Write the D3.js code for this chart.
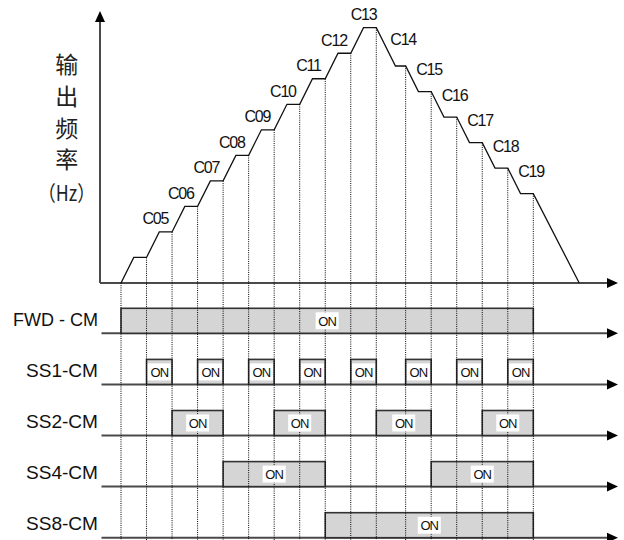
<!DOCTYPE html>
<html>
<head>
<meta charset="utf-8">
<script src="https://cdn.jsdelivr.net/npm/d3@7"></script>
<style>
  html, body { margin: 0; padding: 0; background: #fff; }
  svg { display: block; }
</style>
</head>
<body>
<svg id="chart" width="624" height="540"></svg>
<script>
// ---------- data ----------
const stepLabels = ["", "C05", "C06", "C07", "C08", "C09", "C10", "C11", "C12", "C13", "C14", "C15", "C16", "C17", "C18", "C19"];
const stepFreq   = [1, 2, 3, 4, 5, 6, 7, 8, 9, 10, 8.5, 7.5, 6.5, 5.5, 4.5, 3.5];
const stepBounds = [0, 1, 2, 3, 4, 5, 6, 7, 8, 9, 10, 11.15, 12.15, 13.15, 14.15, 15.15, 16.15];
const stopTime = 17.95;
const rampRate = 2;           // frequency units per time unit
const yAxisTitle = ["输", "出", "频", "率"];
const yAxisUnit = "（Hz）";
const signalNames = ["FWD - CM", "SS1-CM", "SS2-CM", "SS4-CM", "SS8-CM"];
const fwdOn = [[0, 16]];
const ss1On = [[1, 2], [3, 4], [5, 6], [7, 8], [9, 10], [11, 12], [13, 14], [15, 16]];
const ss2On = [[2, 4], [6, 8], [10, 12], [14, 16]];
const ss4On = [[4, 8], [12, 16]];
const ss8On = [[8, 16]];
const signalOn = [fwdOn, ss1On, ss2On, ss4On, ss8On];
const onText = "ON";

// ---------- scales ----------
const svg = d3.select("#chart");
const x = d3.scaleLinear().domain([0, 16.15]).range([121, 533.3]);
const y = d3.scaleLinear().domain([0, 10]).range([283, 27.7]);
const rowY = d3.scaleLinear().domain([0, 4]).range([333.3, 537.7]);
const axisX = 100, axisEndX = 618, axisTopY = 11, baseY = y(0);
const rowStartX = 101.5;
const boxH = 25;
const axisColor = "#4a4a4a";

// ---------- frequency curve ----------
const pts = [[0, 0]];
const plateauStart = [];
let prevF = 0;
stepFreq.forEach((f, i) => {
  const t0 = stepBounds[i];
  const tr = t0 + Math.abs(f - prevF) / rampRate;
  pts.push([tr, f]);
  plateauStart.push(tr);
  pts.push([stepBounds[i + 1], f]);
  prevF = f;
});
pts.push([stopTime, 0]);

// dotted guide lines (from curve down to bottom)
const guideG = svg.append("g");
stepBounds.forEach((t, k) => {
  const topF = k === 0 ? 0 : stepFreq[k - 1];
  guideG.append("line")
    .attr("x1", x(t)).attr("x2", x(t))
    .attr("y1", y(topF)).attr("y2", 540)
    .attr("stroke", "#000").attr("stroke-width", 1)
    .attr("stroke-dasharray", "1,1.2");
});

// axes
svg.append("line").attr("x1", axisX).attr("x2", axisX).attr("y1", baseY).attr("y2", axisTopY + 8)
  .attr("stroke", axisColor).attr("stroke-width", 2);
svg.append("path").attr("d", d3.line()([[axisX, axisTopY], [axisX - 5, axisTopY + 11], [axisX + 5, axisTopY + 11]]) + "Z")
  .attr("fill", "#000");
svg.append("line").attr("x1", axisX).attr("x2", axisEndX - 8).attr("y1", baseY).attr("y2", baseY)
  .attr("stroke", axisColor).attr("stroke-width", 2);
svg.append("path").attr("d", d3.line()([[axisEndX, baseY], [axisEndX - 11, baseY - 5], [axisEndX - 11, baseY + 5]]) + "Z")
  .attr("fill", "#000");

svg.append("path")
  .attr("d", d3.line().x(d => x(d[0])).y(d => y(d[1]))(pts))
  .attr("fill", "none").attr("stroke", "#111").attr("stroke-width", 1.3);

// step labels
const peakIdx = stepFreq.indexOf(d3.max(stepFreq));
stepLabels.forEach((lab, i) => {
  if (!lab) return;
  const t = svg.append("text").text(lab)
    .attr("font-family", "Liberation Sans, Arial, sans-serif")
    .attr("font-size", 16).attr("letter-spacing", -1.2).attr("fill", "#111");
  if (i <= peakIdx) {
    t.attr("text-anchor", "middle")
      .attr("x", x(plateauStart[i]) + (i === peakIdx ? 0 : -4))
      .attr("y", y(stepFreq[i]) - 7.5);
  } else {
    const afterPeak = (i - 1 === peakIdx);
    t.attr("text-anchor", "start")
      .attr("x", x(stepBounds[i]) + (afterPeak ? 14 : 10.5))
      .attr("y", y(stepFreq[i - 1]) + (afterPeak ? 17 : 9.3));
  }
});

// y-axis title
const titleG = svg.append("g").attr("font-family", "Noto Sans CJK SC, sans-serif").attr("fill", "#222");
yAxisTitle.forEach((c, i) => {
  titleG.append("text").text(c)
    .attr("x", 66.7).attr("y", 63 + i * 31.8)
    .attr("text-anchor", "middle").attr("dominant-baseline", "central")
    .attr("font-size", 23);
});
titleG.append("text").text(yAxisUnit)
  .attr("x", 38).attr("y", 191.7)
  .attr("dominant-baseline", "central")
  .attr("font-size", 21)
  .attr("textLength", 57).attr("lengthAdjust", "spacingAndGlyphs");

// ---------- timing rows ----------
const rowsG = svg.append("g");
signalNames.forEach((name, r) => {
  const by = rowY(r);
  rowsG.append("line").attr("x1", rowStartX).attr("x2", axisEndX - 8).attr("y1", by).attr("y2", by)
    .attr("stroke", axisColor).attr("stroke-width", 2);
  rowsG.append("path").attr("d", d3.line()([[axisEndX, by], [axisEndX - 11, by - 5], [axisEndX - 11, by + 5]]) + "Z")
    .attr("fill", "#000");
  rowsG.append("text").text(name)
    .attr("x", 98).attr("y", by - 7.5)
    .attr("text-anchor", "end")
    .attr("font-family", "Liberation Sans, Arial, sans-serif")
    .attr("font-size", 18.5).attr("fill", "#111")
    .attr("textLength", r === 0 ? 85 : 72).attr("lengthAdjust", "spacingAndGlyphs");
  signalOn[r].forEach(([a, b]) => {
    const x0 = x(stepBounds[a]), x1 = x(stepBounds[b]);
    rowsG.append("rect")
      .attr("x", x0).attr("y", by - boxH).attr("width", x1 - x0).attr("height", boxH)
      .attr("fill", "#d5d5d5").attr("stroke", "#333").attr("stroke-width", 1.6);
  });
});

guideG.raise();

// ON labels on top
signalNames.forEach((name, r) => {
  const by = rowY(r);
  signalOn[r].forEach(([a, b]) => {
    const cx = (x(stepBounds[a]) + x(stepBounds[b])) / 2;
    const cy = by - boxH / 2;
    svg.append("rect").attr("x", cx - 11.5).attr("y", cy - 8.5).attr("width", 23).attr("height", 17)
      .attr("fill", "#fff");
    svg.append("text").text(onText)
      .attr("x", cx).attr("y", cy + 4.7)
      .attr("text-anchor", "middle")
      .attr("font-family", "Liberation Sans, Arial, sans-serif")
      .attr("font-size", 13).attr("letter-spacing", -0.9).attr("fill", "#111");
  });
});
</script>
</body>
</html>
